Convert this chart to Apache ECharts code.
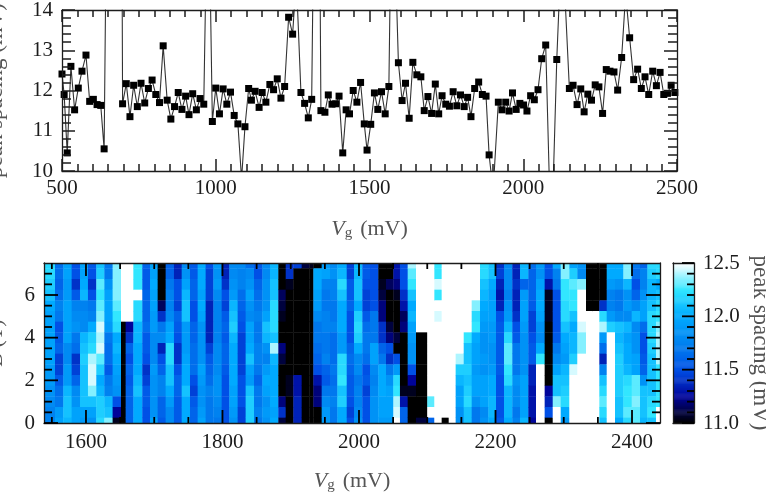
<!DOCTYPE html>
<html><head><meta charset="utf-8">
<style>html,body{margin:0;padding:0;background:#fff}#c{width:766px;height:501px}</style>
<script src="https://cdn.jsdelivr.net/npm/echarts@6/dist/echarts.min.js"></script>
</head><body><div id="c"></div>
<script>
// ---- upper panel: peak spacing against gate voltage
const gateVoltage = [500,507,517,529,541,553,565,578,590,602,614,626,637,649,661,673,685,697,709,721,733,745,757,769,781,793,805,817,829,842,854,866,878,890,902,913,925,937,949,961,975,989,1000,1012,1024,1036,1048,1060,1072,1084,1095,1107,1116,1128,1141,1151,1163,1176,1188,1200,1212,1224,1237,1250,1262,1277,1289,1301,1312,1324,1333,1342,1355,1366,1378,1390,1401,1413,1424,1435,1447,1459,1471,1483,1492,1504,1516,1527,1539,1551,1563,1575,1585,1594,1606,1617,1629,1641,1654,1667,1678,1690,1702,1714,1725,1736,1748,1760,1772,1784,1796,1808,1819,1830,1842,1855,1867,1879,1889,1902,1919,1931,1943,1954,1965,1977,1989,2001,2012,2024,2036,2048,2060,2073,2091,2109,2121,2134,2150,2162,2175,2187,2198,2210,2222,2234,2246,2258,2270,2282,2295,2307,2320,2333,2346,2359,2372,2384,2396,2408,2421,2433,2445,2457,2469,2481,2493];
const peakSpacing = [12.41,11.9,10.45,12.6,11.52,12.06,12.48,12.88,11.73,11.78,11.65,11.63,10.55,20,25,30,37,11.67,12.17,11.35,12.13,11.6,12.18,11.69,12.05,12.26,11.9,11.7,13.11,11.76,11.29,11.6,11.95,11.53,11.86,11.4,11.92,11.52,11.8,11.66,18,11.23,12.06,11.42,12.04,11.66,11.96,11.38,11.17,9.8,11.1,12.05,11.76,11.98,11.58,11.95,11.71,12.15,12.02,12.29,11.81,12.1,13.82,13.4,14.8,11.95,11.68,11.32,11.78,20,22,11.5,11.46,11.89,11.66,11.67,11.86,10.45,11.52,11.42,12.0,11.71,12.2,11.17,10.52,11.16,11.94,11.53,11.97,11.42,12.1,19,15,12.69,11.75,12.18,11.31,12.7,12.39,12.34,11.5,11.85,11.43,12.16,11.42,11.87,11.66,11.61,11.97,11.62,11.89,11.6,11.83,11.35,12.05,12.21,11.9,11.86,10.4,9.5,11.71,11.52,11.71,11.49,11.94,11.53,11.68,11.64,11.49,11.87,11.77,12.02,12.79,13.13,8,12.77,15,14.6,12.05,12.13,11.65,12.04,11.47,11.91,11.76,12.14,12.09,11.43,12.52,12.48,12.46,12.01,12.82,14.4,13.31,12.27,12.53,12.05,12.34,11.9,12.48,12.12,12.45,11.9,11.93,12.13,11.95];

// ---- lower panel: column edges (mV) and rows of the magnetic field map
const columnEdges = [1538.5,1554.6,1566.8,1579,1591.2,1602.9,1615.1,1626.9,1639,1651.3,1658.1,1669.4,1682.5,1693.8,1705,1716.7,1728.9,1740.2,1752.4,1763.6,1775.3,1786.6,1798.8,1810,1822.2,1833.9,1846.2,1858.4,1869.6,1881.8,1892.6,1903.8,1916,1927.2,1933.1,1945.3,1957.5,1968.3,1982,1992.7,2004.9,2016.1,2028.3,2039.6,2050.3,2060,2071.3,2083.5,2100,2110.4,2121.1,2131.4,2141.6,2153.4,2165.1,2177.3,2189.5,2200.7,2212.4,2224.6,2235.9,2248.1,2259.3,2272,2283.8,2295.5,2308.2,2319.9,2332.6,2342.4,2352.1,2362.9,2375.1,2387.3,2399.5,2411.7,2422.5,2435.2,2441];
const fieldRows = [7.5,7,6.5,6,5.5,5,4.5,4,3.5,3,2.5,2,1.5,1,0.5,0];
const mapColumns = [
[12.2,12.2,12.15,12.1,12.0,11.95,11.95,11.95,11.95,11.95,11.9,11.9,11.85,11.8,11.75,11.75],
[11.65,11.65,11.6,11.65,11.75,11.7,11.5,11.55,11.6,11.45,11.45,11.55,11.65,11.7,11.9,11.95],
[11.95,11.95,11.9,11.9,11.95,11.95,11.95,11.95,11.8,11.8,11.9,11.9,12.05,12.1,12.1,12.05],
[11.5,11.5,11.4,11.55,11.75,11.8,11.85,11.7,11.65,11.4,11.45,11.6,11.8,11.85,11.95,11.95],
[11.95,11.95,12.0,12.05,11.75,11.8,11.8,12.05,12.1,12.15,12.1,12.1,12.1,12.1,11.95,11.9],
[11.55,11.5,11.4,11.5,11.7,11.75,12.0,12.15,12.2,12.4,12.45,12.45,12.35,12.1,11.95,11.85],
[12.1,12.15,12.3,12.25,12.3,12.35,12.45,12.4,12.45,12.3,12.15,12.0,12.05,12.15,12.15,12.2],
[11.7,11.7,11.85,11.95,11.95,11.95,11.9,11.7,11.65,11.65,11.55,11.7,11.75,12.05,12.1,12.35],
[12.35,12.35,12.35,12.35,12.3,12.25,12.2,12.0,12.05,12.0,11.95,11.9,11.85,11.5,11.25,11.05],
[12.5,12.5,12.5,12.5,12.5,12.5,11.0,11.0,11.0,11.0,11.0,11.0,11.0,11.0,11.0,11.0],
[12.5,12.5,12.5,12.5,12.5,12.5,11.25,11.4,11.6,11.5,11.6,11.55,11.6,11.6,11.6,11.6],
[12.25,12.25,12.25,12.5,12.2,12.2,12.05,12.05,12.0,12.0,12.0,12.05,12.1,12.0,12.0,12.0],
[11.6,11.55,11.55,11.6,11.6,11.6,11.65,11.55,11.55,11.5,11.4,11.45,11.55,11.55,11.5,11.5],
[11.95,11.95,12.0,11.95,11.95,11.9,11.9,11.8,11.8,11.8,11.9,11.85,11.85,11.85,11.85,11.95],
[11.0,11.0,11.0,11.0,11.15,11.4,11.7,11.8,11.35,11.5,11.6,11.75,11.75,11.6,11.6,11.55],
[11.6,11.6,11.7,11.75,11.75,11.8,11.95,12.0,12.2,12.2,12.1,12.1,12.0,11.9,11.8,11.8],
[11.35,11.35,11.5,11.5,11.45,11.6,11.55,11.5,11.4,11.4,11.5,11.6,11.6,11.55,11.55,11.55],
[11.8,11.85,11.95,12.05,12.1,12.1,11.9,11.9,11.9,11.95,12.0,12.0,12.1,12.0,12.0,12.0],
[11.55,11.55,11.6,11.6,11.5,11.5,11.6,11.6,11.65,11.65,11.65,11.5,11.45,11.55,11.6,11.6],
[12.0,12.0,12.0,11.95,12.0,11.95,11.85,11.85,11.85,11.85,11.95,11.9,11.85,11.85,11.9,11.95],
[11.5,11.45,11.45,11.45,11.35,11.35,11.35,11.35,11.45,11.55,11.6,11.65,11.75,11.7,11.7,11.7],
[11.9,11.85,11.9,11.8,11.75,11.75,11.75,11.75,11.8,11.8,11.8,11.85,11.85,11.8,11.75,11.7],
[11.35,11.35,11.4,11.5,11.45,11.55,11.6,11.55,11.6,11.6,11.55,11.5,11.5,11.5,11.5,11.5],
[11.8,11.8,11.85,11.9,12.05,12.1,12.15,12.05,12.0,12.0,12.0,12.0,11.95,11.95,11.9,11.85],
[11.8,11.75,11.75,11.65,11.6,11.55,11.5,11.45,11.45,11.45,11.45,11.5,11.5,11.5,11.45,11.45],
[11.65,11.8,11.85,11.95,11.85,11.8,11.95,11.95,12.0,12.1,11.95,11.9,12.1,12.15,12.15,12.15],
[11.55,11.5,11.6,11.65,11.7,11.75,11.7,11.7,11.75,11.75,11.7,11.6,11.7,11.7,11.75,11.7],
[11.8,11.8,11.85,11.85,11.85,11.95,12.1,12.05,11.85,11.75,11.9,12.0,11.95,11.85,11.9,11.85],
[12.05,12.05,12.1,12.1,12.2,12.2,12.2,12.1,12.4,12.05,12.0,12.0,12.0,12.0,11.95,12.0],
[11.0,11.0,11.0,11.15,11.1,11.05,11.0,11.0,11.2,11.1,11.0,11.0,11.0,11.2,11.4,11.1],
[11.4,11.4,11.05,11.0,11.0,11.0,11.0,11.0,11.0,11.0,11.0,11.05,11.05,11.0,11.0,11.0],
[11.45,11.0,11.0,11.0,11.0,11.0,11.0,11.0,11.0,11.0,11.0,11.3,11.3,11.35,11.35,11.35],
[11.1,11.0,11.0,11.0,11.0,11.0,11.0,11.0,11.0,11.0,11.0,11.0,11.0,11.0,11.0,11.0],
[11.05,11.0,11.0,11.0,11.0,11.0,11.0,11.0,11.0,11.0,11.0,11.0,11.0,11.0,11.0,11.0],
[11.0,12.0,12.0,11.95,11.9,11.8,11.7,11.7,11.65,11.6,11.5,11.3,11.2,11.2,11.0,11.0],
[11.9,11.95,11.75,11.7,11.7,11.75,11.75,11.7,11.7,11.75,11.6,11.55,11.7,11.8,11.9,11.9],
[11.8,11.85,11.75,11.75,11.7,11.7,11.75,11.65,11.65,11.65,11.7,11.65,11.7,11.75,11.7,11.7],
[12.0,12.05,12.2,12.1,12.0,12.0,12.0,11.9,11.9,12.2,12.2,12.25,12.1,12.15,12.0,12.0],
[11.45,11.45,11.55,11.55,11.6,11.5,11.5,11.5,11.6,11.65,11.6,11.55,11.55,11.5,11.45,11.5],
[12.05,12.05,12.1,12.1,12.0,12.15,12.2,12.15,12.0,11.8,11.8,11.7,11.75,11.75,11.8,11.85],
[11.55,11.55,11.5,11.45,11.45,11.55,11.65,11.7,11.7,11.65,11.5,11.55,11.45,11.5,11.5,11.5],
[11.5,11.5,11.5,11.5,11.5,11.7,11.7,11.7,11.95,11.95,11.8,11.75,11.8,11.85,11.85,11.85],
[11.0,11.0,11.05,11.1,11.2,11.2,11.4,11.4,11.6,11.7,12.0,12.0,12.0,11.95,11.95,11.9],
[11.0,11.0,11.15,11.0,11.0,11.0,11.1,11.2,11.5,11.4,11.7,11.85,11.95,11.95,11.95,11.9],
[11.3,11.3,11.2,11.05,11.0,11.0,11.0,11.1,11.0,11.5,11.9,12.2,12.25,12.4,12.45,12.5],
[11.5,11.5,11.5,11.4,11.3,11.15,11.2,11.0,11.0,11.0,11.0,11.0,11.05,11.3,11.6,11.6],
[12.4,12.3,12.25,12.1,12.0,12.05,11.95,11.9,11.85,11.85,11.5,11.25,11.05,11.0,11.0,11.0],
[12.5,12.5,12.5,12.5,12.5,12.5,12.5,11.0,11.0,11.0,11.0,11.0,11.0,11.0,11.0,11.1],
[12.5,12.5,12.5,12.5,12.5,12.5,12.5,12.5,12.5,12.5,12.5,12.5,12.5,12.3,12.5,11.6],
[12.25,12.25,12.45,12.25,12.5,12.45,12.5,12.5,12.5,12.5,12.5,12.5,12.5,12.5,12.5,12.5],
[12.5,12.5,12.5,12.5,12.5,12.5,12.5,12.5,12.5,12.5,12.5,12.5,12.5,12.5,12.5,11.0],
[12.5,12.5,12.5,12.5,12.5,12.5,12.5,12.5,12.5,12.5,12.5,12.5,12.5,12.5,12.5,12.5],
[12.5,12.5,12.5,12.5,12.5,12.5,12.5,12.5,12.5,12.4,12.15,12.05,11.95,11.95,11.85,11.85],
[12.5,12.5,12.5,12.5,12.5,12.5,12.5,12.25,12.1,12.1,12.15,12.1,12.15,12.2,12.1,12.1],
[12.5,12.5,12.5,12.5,12.35,12.2,12.25,12.0,11.95,11.95,11.9,11.95,11.95,11.85,11.7,11.7],
[12.2,12.2,12.1,12.05,12.0,11.95,11.9,11.85,11.85,11.9,11.85,11.95,11.95,11.95,11.8,11.85],
[12.1,12.1,12.0,11.95,11.95,11.95,11.9,11.9,11.85,11.85,11.9,12.0,12.0,12.05,12.05,12.0],
[11.4,11.45,11.35,11.3,11.35,11.5,11.55,11.55,11.55,11.55,11.55,11.5,11.5,11.5,11.5,11.55],
[11.8,11.8,11.8,11.75,11.85,11.9,12.05,12.2,12.3,12.3,12.25,12.2,12.05,12.05,12.05,12.0],
[11.35,11.35,11.4,11.35,11.35,11.4,11.5,11.55,11.7,11.7,11.7,11.85,11.8,11.8,11.7,11.75],
[12.05,12.05,11.6,11.9,11.95,11.95,11.9,11.85,11.85,11.85,11.85,11.95,11.95,11.95,11.95,12.05],
[11.65,11.6,11.6,11.6,11.55,11.45,11.45,11.5,11.55,11.55,11.35,11.35,11.3,11.3,11.3,11.25],
[11.9,11.85,11.95,12.0,12.0,11.95,11.85,11.8,12.0,12.25,12.5,12.5,12.5,12.5,12.5,12.5],
[11.5,11.5,11.3,11.05,11.05,11.05,11.0,11.0,11.0,11.0,11.0,11.0,11.25,11.35,11.5,11.0],
[12.0,11.75,11.7,11.5,11.5,11.5,11.5,11.55,11.7,11.8,11.95,12.1,12.1,12.35,12.5,12.5],
[12.35,12.35,12.25,12.25,12.2,12.2,12.1,12.0,11.95,11.9,12.05,12.1,12.15,12.2,12.0,11.9],
[11.95,12.15,12.3,12.25,12.25,12.1,12.0,12.05,12.05,12.15,12.45,12.5,12.5,12.5,12.5,12.5],
[11.85,11.8,12.35,12.5,12.5,12.5,12.45,12.35,12.35,12.5,12.5,12.5,12.5,12.5,12.5,12.5],
[11.0,11.0,11.0,11.0,11.0,12.5,12.5,12.5,12.5,12.5,12.5,12.5,12.5,12.5,12.5,12.5],
[11.0,11.0,11.0,11.0,11.0,12.5,12.5,12.5,12.5,12.5,12.5,12.5,12.5,12.5,12.5,12.5],
[11.0,11.0,11.0,11.0,11.4,12.2,12.4,11.9,11.65,11.35,11.75,12.1,12.2,12.3,12.2,12.1],
[12.0,12.0,11.9,11.75,11.75,11.9,12.15,12.5,12.5,12.5,12.5,12.5,12.5,12.5,12.5,12.5],
[12.0,12.0,11.85,11.7,11.7,11.8,12.1,12.05,12.1,12.15,12.15,12.15,12.15,12.1,12.1,12.0],
[12.35,12.35,12.05,11.85,11.9,11.8,12.05,11.95,12.0,12.0,12.05,12.2,12.25,12.25,12.3,12.2],
[11.7,11.65,11.5,11.6,11.8,12.05,11.8,11.85,11.85,11.95,11.95,12.3,12.3,12.35,12.3,12.3],
[11.6,11.75,11.75,11.85,11.95,11.95,11.65,11.5,11.5,11.55,11.6,11.85,12.1,12.1,12.1,12.05],
[12.2,12.15,12.05,12.05,12.1,12.2,12.2,12.2,12.15,12.1,12.1,12.1,12.1,12.2,12.25,12.1],
[12.2,12.2,12.0,12.1,12.2,12.25,12.35,12.4,12.4,12.4,12.25,12.25,12.25,12.25,12.5,12.5]
];

// ---- tick positions
const mapXMajor = [1600,1800,2000,2200,2400];
const mapXMinor = [1550,1650,1700,1750,1850,1900,1950,2050,2100,2150,2250,2300,2350];
const mapYMajor = [0,2,4,6];
const mapYMinor = [0.5,1,1.5,2.5,3,3.5,4.5,5,5.5,6.5,7];
const barMajor = [11,11.5,12,12.5];
const barMinor = [11.1,11.2,11.3,11.4,11.6,11.7,11.8,11.9,12.1,12.2,12.3,12.4];
const colourStops = ['#000000','#00049a','#0050e6','#0082f0','#00aaff','#32e6ff','#ffffff'];

const FONT = 'Liberation Serif';
const INK = '#1c1c1c';
const line = {lineStyle:{color:INK,width:1.3}};
const plain = v=>String(v);
const labelStyle = {fontFamily:FONT,fontSize:21,color:INK,formatter:plain};
const yLabelShift = {padding:[5,0,0,0]};
const nameStyle = {fontFamily:FONT,fontSize:22,color:'#555',
  rich:{i:{fontFamily:FONT,fontSize:22,fontStyle:'italic',color:'#555'},
        s:{fontFamily:FONT,fontSize:15,color:'#555',verticalAlign:'bottom',padding:[8,8,0,0]},
        n:{fontFamily:FONT,fontSize:22,color:'#555'}}};
const VG = '{i|V}{s|g}{n|(mV)}';

function frameAxis(extra){
  return Object.assign({type:'value',z:10,splitLine:{show:false},
    axisLine:Object.assign({show:true,onZero:false},line),
    axisTick:{show:false},axisLabel:{show:false}},extra);
}
const topTicks = (len,minor,split)=>({axisTick:{show:true,inside:true,length:len,lineStyle:{color:INK,width:1.5}},
  minorTick:{show:true,splitNumber:split,length:minor,lineStyle:{color:INK,width:1.5}}});

const mapCells = [];
mapColumns.forEach((col,i)=>col.forEach((v,j)=>{
  mapCells.push([columnEdges[i],columnEdges[i+1],fieldRows[j]-0.25,fieldRows[j]+0.25,v]);
}));
const barCells = [];
for(let k=0;k<150;k++){const lo=11+k*0.01;barCells.push([0,1,lo,lo+0.0105,lo+0.005]);}

function cell(params,api){
  const a=api.coord([api.value(0),api.value(3)]);
  const b=api.coord([api.value(1),api.value(2)]);
  return {type:'rect',shape:{x:a[0],y:a[1],width:b[0]-a[0]+0.4,height:b[1]-a[1]+0.4},
    style:{fill:api.visual('color')}};
}
const tickStyle = {stroke:'#000',fill:null,lineWidth:1.8};
const seg = (x1,y1,x2,y2)=>({type:'line',shape:{x1,y1,x2,y2},style:tickStyle});
// ticks lying over the colour map; positions come from the axes' own scale
function xTicks(params,api){
  const s=params.coordSys, x=api.coord([api.value(0),0])[0], n=api.value(1);
  return {type:'group',children:[seg(x,s.y+s.height,x,s.y+s.height-n),seg(x,s.y,x,s.y+n)]};
}
function yTicks(params,api){
  const s=params.coordSys, y=api.coord([1600,api.value(0)])[1], n=api.value(1);
  return {type:'group',children:[seg(s.x,y,s.x+n,y),seg(s.x+s.width,y,s.x+s.width-n,y)]};
}
function barTicks(params,api){
  const s=params.coordSys, y=api.coord([0.5,api.value(0)])[1], n=api.value(1);
  return seg(s.x+s.width,y,s.x+s.width-n,y);
}
const withLen=(vals,n)=>vals.map(v=>[v,n]);

const chart = echarts.init(document.getElementById('c'),null,{renderer:'canvas'});
const gridBase = {outerBoundsMode:'none',containLabel:false};
chart.setOption({
  animation:false,backgroundColor:'#fff',
  grid:[
    Object.assign({left:62,top:10,width:615,height:161},gridBase),
    Object.assign({left:44,top:263,width:616,height:160},gridBase),
    Object.assign({left:673,top:263,width:21,height:160},gridBase)
  ],
  xAxis:[
    frameAxis(Object.assign({gridIndex:0,position:'bottom',min:500,max:2500,interval:500,
      axisLabel:Object.assign({show:true,margin:7},labelStyle),
      name:VG,nameLocation:'middle',nameGap:47,nameTextStyle:nameStyle},topTicks(12,7,10))),
    frameAxis(Object.assign({gridIndex:0,position:'top',min:500,max:2500,interval:500},topTicks(12,7,10))),
    frameAxis({gridIndex:1,position:'bottom',min:1538.5,max:2441,
      axisLabel:Object.assign({show:true,customValues:mapXMajor,margin:9},labelStyle),
      name:VG,nameLocation:'middle',nameGap:47,nameTextStyle:nameStyle}),
    frameAxis({gridIndex:1,position:'top',min:1538.5,max:2441}),
    frameAxis({gridIndex:2,position:'bottom',min:0,max:1}),
    frameAxis({gridIndex:2,position:'top',min:0,max:1})
  ],
  yAxis:[
    frameAxis(Object.assign({gridIndex:0,position:'left',min:10,max:14,interval:1,
      axisLabel:Object.assign({show:true,margin:9},labelStyle,yLabelShift),
      name:'peak spacing (mV)',nameLocation:'middle',nameGap:55,nameRotate:90,
      nameTextStyle:Object.assign({},nameStyle,{fontSize:23})},topTicks(13,9,5))),
    frameAxis(Object.assign({gridIndex:0,position:'right',min:10,max:14,interval:1},topTicks(13,9,5))),
    frameAxis({gridIndex:1,position:'left',min:0,max:7.5,
      axisLabel:Object.assign({show:true,customValues:mapYMajor,margin:9},labelStyle,yLabelShift),
      name:'{i|B}{n| (T)}',nameLocation:'middle',nameGap:37,nameRotate:90,nameTextStyle:nameStyle}),
    frameAxis({gridIndex:1,position:'right',min:0,max:7.5}),
    frameAxis({gridIndex:2,position:'right',min:11,max:12.5,
      axisLabel:Object.assign({show:true,customValues:barMajor,margin:9},labelStyle,yLabelShift,{formatter:v=>Number(v).toFixed(1)}),
      name:'peak spacing (mV)',nameLocation:'middle',nameGap:55,nameRotate:-90,
      nameTextStyle:Object.assign({},nameStyle,{fontSize:23})}),
    frameAxis({gridIndex:2,position:'left',min:11,max:12.5})
  ],
  visualMap:{show:false,type:'continuous',seriesIndex:[1,2],dimension:4,min:11,max:12.5,inRange:{color:colourStops}},
  series:[
    {type:'line',xAxisIndex:0,yAxisIndex:0,data:gateVoltage.map((x,i)=>[x,peakSpacing[i]]),
      clip:true,symbol:'rect',symbolSize:7,showAllSymbol:true,
      lineStyle:{color:'#333',width:1.1},itemStyle:{color:'#000'}},
    {type:'custom',xAxisIndex:2,yAxisIndex:2,coordinateSystem:'cartesian2d',clip:true,
      encode:{x:[0,1],y:[2,3]},renderItem:cell,data:mapCells},
    {type:'custom',xAxisIndex:4,yAxisIndex:4,coordinateSystem:'cartesian2d',clip:true,
      encode:{x:[0,1],y:[2,3]},renderItem:cell,data:barCells},
    {type:'custom',xAxisIndex:2,yAxisIndex:2,coordinateSystem:'cartesian2d',z:20,silent:true,
      encode:{x:0},renderItem:xTicks,data:withLen(mapXMajor,13).concat(withLen(mapXMinor,6))},
    {type:'custom',xAxisIndex:2,yAxisIndex:2,coordinateSystem:'cartesian2d',z:20,silent:true,
      encode:{y:0},renderItem:yTicks,data:withLen(mapYMajor,14).concat(withLen(mapYMinor,8))},
    {type:'custom',xAxisIndex:4,yAxisIndex:4,coordinateSystem:'cartesian2d',z:20,silent:true,
      encode:{y:0},renderItem:barTicks,data:withLen(barMajor,12).concat(withLen(barMinor,7))}
  ]
});
</script></body></html>
